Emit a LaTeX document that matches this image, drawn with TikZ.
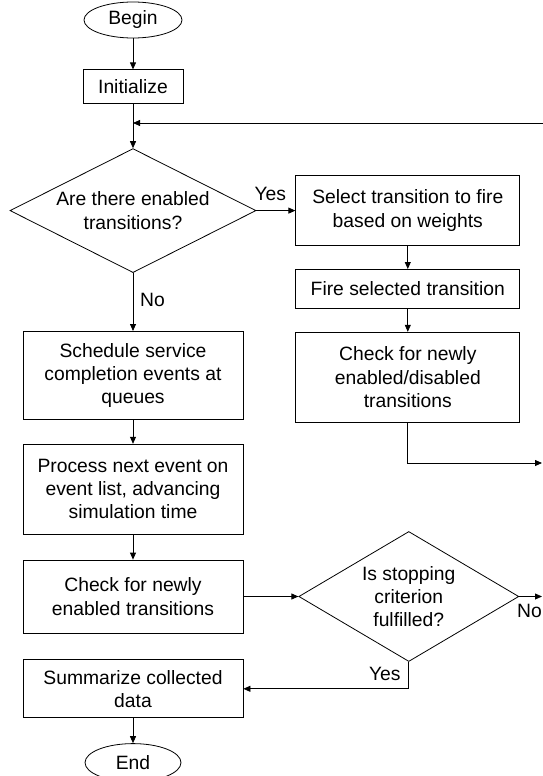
\documentclass[tikz,border=0pt]{standalone}
\usepackage{fontspec}
\setmainfont{Liberation Sans}
\usetikzlibrary{arrows.meta,positioning,shapes.geometric,calc}

\begin{document}
\begin{tikzpicture}[
        x=1pt, y=-1pt,
        every node/.style={font=\fontsize{19.3}{23.2}\selectfont},
        bloque/.style={draw, align=center, inner sep=2pt, line width=0.8pt},
        decision/.style={draw, diamond, aspect=2, align=center, inner sep=0pt, line width=0.8pt},
        terminal/.style={draw, ellipse, inner sep=0pt, line width=0.8pt},
        etiqueta/.style={inner sep=0pt},
        flecha/.style={-{Triangle[length=7pt,width=6pt]}, line width=0.8pt}
    ]

    \useasboundingbox (0,0) rectangle (543,776);

    % Extremos libres en el borde derecho
    \coordinate (retorno) at (543,123);
    \coordinate (salida) at (542,463);

    % Inicio e inicializacion
    \node[terminal, minimum width=98pt, minimum height=36pt] (begin) at (133,20) {Begin};
    \node[bloque, minimum width=100pt, minimum height=34pt, below=31pt of begin] (init) {Initialize};

    % Primera decision, con la rama derecha al lado
    \node[decision, minimum width=246pt, minimum height=124pt, below=44pt of init] (enabled)
    {Are there enabled\\transitions?};
    \node[bloque, minimum width=224pt, minimum height=70pt, right=39pt of enabled] (select)
    {Select transition to fire\\based on weights};
    \node[bloque, minimum width=224pt, minimum height=39pt, below=23pt of select] (fire)
    {Fire selected transition};
    \node[bloque, minimum width=224pt, minimum height=90pt, below=23pt of fire] (checkdis)
    {Check for newly\\enabled/disabled\\transitions};

    % Columna izquierda, debajo de la decision
    \node[bloque, minimum width=220pt, minimum height=88pt, below=58pt of enabled] (sched)
    {Schedule service\\completion events at\\queues};
    \node[bloque, minimum width=220pt, minimum height=90pt, below=24pt of sched] (process)
    {Process next event on\\event list, advancing\\simulation time};
    \node[bloque, minimum width=220pt, minimum height=73pt, below=25pt of process] (checken)
    {Check for newly\\enabled transitions};
    % Criterio de parada a la derecha
    \node[decision, minimum width=220pt, minimum height=130pt, right=55pt of checken] (stop)
    {Is stopping\\criterion\\fulfilled?};
    \node[bloque, minimum width=220pt, minimum height=58pt, below=26pt of checken] (summ)
    {Summarize collected\\data};
    \node[terminal, minimum width=96pt, minimum height=38pt, below=25pt of summ] (end) {End};

    % Etiquetas de las ramas
    \node[etiqueta, anchor=south west] (si1) at ([xshift=-2pt,yshift=10pt]enabled.east) {Yes};
    \node[etiqueta, anchor=north west] (no1) at ([xshift=7pt,yshift=-20pt]enabled.south) {No};
    \node[etiqueta, anchor=north east] (si2) at ([xshift=-8pt,yshift=-5pt]stop.south) {Yes};
    \node[etiqueta, anchor=north east, yshift=-8pt] (no2) at (stop.east -| salida) {No};

    % Flechas de proceso
    \draw[flecha] (begin) -- (init);
    \draw[flecha] (init) -- (enabled);
    \draw[flecha] (retorno) -- (retorno -| init.south);
    \draw[flecha] (enabled.east) -- (select.west);
    \draw[flecha] (select) -- (fire);
    \draw[flecha] (fire) -- (checkdis);
    \draw[flecha] (checkdis.south) |- (salida);
    \draw[flecha] (enabled) -- (sched);
    \draw[flecha] (sched) -- (process);
    \draw[flecha] (process) -- (checken);
    \draw[flecha] (checken) -- (stop);
    \draw[flecha] (stop.east) -- (stop.east -| salida);
    \draw[flecha] (stop.south) |- (summ.east);
    \draw[flecha] (summ) -- (end);

\end{tikzpicture}
\end{document}
